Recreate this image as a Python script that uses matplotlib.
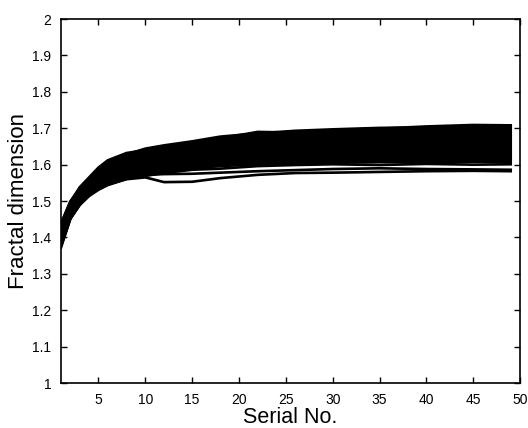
import matplotlib
matplotlib.use("Agg")
import numpy as np
import matplotlib.pyplot as plt

plt.rcParams["font.family"] = ["Liberation Sans", "DejaVu Sans"]

# serial numbers at which each fractal-dimension curve was sampled
serial = [1, 2, 3, 4, 5, 6, 8, 10, 12, 15, 18, 22, 26, 30, 35, 40, 45, 49]

# fractal dimension curves, one row per sample
fd_curves = [
    [1.372, 1.451, 1.489, 1.514, 1.531, 1.544, 1.561, 1.569, 1.577, 1.586, 1.589, 1.596, 1.599, 1.601, 1.599, 1.602, 1.600, 1.601],
    [1.376, 1.453, 1.492, 1.517, 1.534, 1.549, 1.566, 1.575, 1.582, 1.590, 1.596, 1.601, 1.604, 1.605, 1.607, 1.606, 1.608, 1.607],
    [1.377, 1.455, 1.494, 1.519, 1.535, 1.551, 1.566, 1.574, 1.581, 1.592, 1.598, 1.604, 1.606, 1.609, 1.611, 1.610, 1.612, 1.611],
    [1.379, 1.456, 1.496, 1.521, 1.537, 1.553, 1.569, 1.578, 1.585, 1.595, 1.601, 1.607, 1.610, 1.612, 1.613, 1.613, 1.614, 1.614],
    [1.382, 1.458, 1.497, 1.522, 1.539, 1.555, 1.572, 1.581, 1.588, 1.598, 1.604, 1.611, 1.614, 1.616, 1.617, 1.618, 1.618, 1.619],
    [1.385, 1.460, 1.499, 1.524, 1.541, 1.557, 1.574, 1.584, 1.591, 1.601, 1.607, 1.614, 1.617, 1.620, 1.621, 1.622, 1.623, 1.622],
    [1.388, 1.462, 1.501, 1.526, 1.544, 1.560, 1.578, 1.587, 1.594, 1.605, 1.612, 1.618, 1.622, 1.625, 1.625, 1.626, 1.627, 1.627],
    [1.390, 1.464, 1.503, 1.528, 1.546, 1.562, 1.580, 1.590, 1.597, 1.608, 1.615, 1.622, 1.626, 1.629, 1.629, 1.631, 1.632, 1.631],
    [1.393, 1.467, 1.505, 1.530, 1.548, 1.565, 1.583, 1.594, 1.601, 1.612, 1.619, 1.626, 1.629, 1.633, 1.634, 1.635, 1.636, 1.636],
    [1.396, 1.469, 1.507, 1.532, 1.551, 1.568, 1.586, 1.597, 1.604, 1.615, 1.622, 1.630, 1.633, 1.637, 1.638, 1.639, 1.641, 1.640],
    [1.399, 1.471, 1.509, 1.534, 1.553, 1.570, 1.589, 1.600, 1.607, 1.618, 1.626, 1.634, 1.637, 1.641, 1.642, 1.644, 1.645, 1.645],
    [1.402, 1.473, 1.511, 1.536, 1.555, 1.572, 1.592, 1.603, 1.610, 1.621, 1.629, 1.638, 1.641, 1.645, 1.646, 1.648, 1.650, 1.649],
    [1.405, 1.475, 1.513, 1.538, 1.558, 1.575, 1.595, 1.607, 1.614, 1.625, 1.633, 1.642, 1.645, 1.649, 1.650, 1.652, 1.654, 1.654],
    [1.408, 1.477, 1.514, 1.539, 1.560, 1.578, 1.598, 1.610, 1.617, 1.628, 1.637, 1.645, 1.649, 1.653, 1.654, 1.656, 1.658, 1.658],
    [1.411, 1.479, 1.516, 1.541, 1.562, 1.580, 1.601, 1.613, 1.620, 1.632, 1.640, 1.649, 1.653, 1.657, 1.658, 1.660, 1.663, 1.663],
    [1.414, 1.481, 1.518, 1.543, 1.564, 1.583, 1.604, 1.616, 1.623, 1.635, 1.644, 1.653, 1.657, 1.661, 1.663, 1.664, 1.668, 1.667],
    [1.417, 1.483, 1.520, 1.545, 1.567, 1.585, 1.607, 1.619, 1.626, 1.638, 1.647, 1.657, 1.661, 1.665, 1.667, 1.669, 1.672, 1.672],
    [1.420, 1.485, 1.522, 1.547, 1.569, 1.588, 1.610, 1.623, 1.630, 1.642, 1.651, 1.661, 1.665, 1.670, 1.671, 1.673, 1.677, 1.676],
    [1.423, 1.488, 1.524, 1.549, 1.571, 1.590, 1.613, 1.626, 1.633, 1.645, 1.655, 1.665, 1.669, 1.674, 1.675, 1.677, 1.681, 1.681],
    [1.426, 1.490, 1.526, 1.551, 1.573, 1.592, 1.615, 1.629, 1.636, 1.648, 1.658, 1.669, 1.672, 1.678, 1.679, 1.681, 1.686, 1.685],
    [1.428, 1.492, 1.528, 1.553, 1.576, 1.595, 1.618, 1.632, 1.639, 1.652, 1.662, 1.673, 1.676, 1.682, 1.683, 1.686, 1.690, 1.690],
    [1.431, 1.494, 1.530, 1.555, 1.578, 1.598, 1.621, 1.636, 1.643, 1.655, 1.665, 1.677, 1.680, 1.686, 1.688, 1.690, 1.695, 1.694],
    [1.434, 1.496, 1.532, 1.557, 1.580, 1.600, 1.624, 1.639, 1.646, 1.658, 1.669, 1.680, 1.684, 1.690, 1.692, 1.694, 1.699, 1.699],
    [1.437, 1.498, 1.534, 1.559, 1.582, 1.603, 1.627, 1.642, 1.649, 1.662, 1.673, 1.684, 1.688, 1.694, 1.696, 1.699, 1.703, 1.703],
    [1.438, 1.499, 1.536, 1.561, 1.584, 1.606, 1.628, 1.644, 1.653, 1.664, 1.677, 1.686, 1.693, 1.697, 1.701, 1.702, 1.707, 1.706],
    [1.380, 1.452, 1.490, 1.515, 1.532, 1.545, 1.560, 1.565, 1.552, 1.553, 1.563, 1.572, 1.577, 1.578, 1.580, 1.582, 1.583, 1.582],
    [1.383, 1.455, 1.493, 1.518, 1.535, 1.548, 1.563, 1.572, 1.574, 1.575, 1.578, 1.582, 1.585, 1.588, 1.590, 1.588, 1.587, 1.586],
    [1.430, 1.495, 1.538, 1.565, 1.592, 1.612, 1.632, 1.640, 1.645, 1.660, 1.672, 1.690, 1.688, 1.695, 1.699, 1.705, 1.709, 1.708],
]

fig = plt.figure(figsize=(5.28, 4.28), dpi=100)
ax = fig.add_axes([0.1155, 0.105, 0.8695, 0.8505])

for fd in fd_curves:
    ax.plot(serial, fd, color="black", linewidth=1.9)

ax.set_xlim(1, 50)
ax.set_ylim(1, 2)
ax.set_xticks([5, 10, 15, 20, 25, 30, 35, 40, 45, 50])
ax.set_yticks(np.round(np.arange(1, 2.01, 0.1), 1))
ax.set_yticklabels(["1", "1.1", "1.2", "1.3", "1.4", "1.5", "1.6", "1.7", "1.8", "1.9", "2"])
ax.tick_params(direction="in", top=True, right=True, length=4, width=1,
               labelsize=10, pad=7)
for s in ax.spines.values():
    s.set_linewidth(1.2)

ax.set_xlabel("Serial No.", fontsize=15.5, labelpad=0)
ax.set_ylabel("Fractal dimension", fontsize=16, labelpad=2)

fig.savefig("out.png", dpi=100)
